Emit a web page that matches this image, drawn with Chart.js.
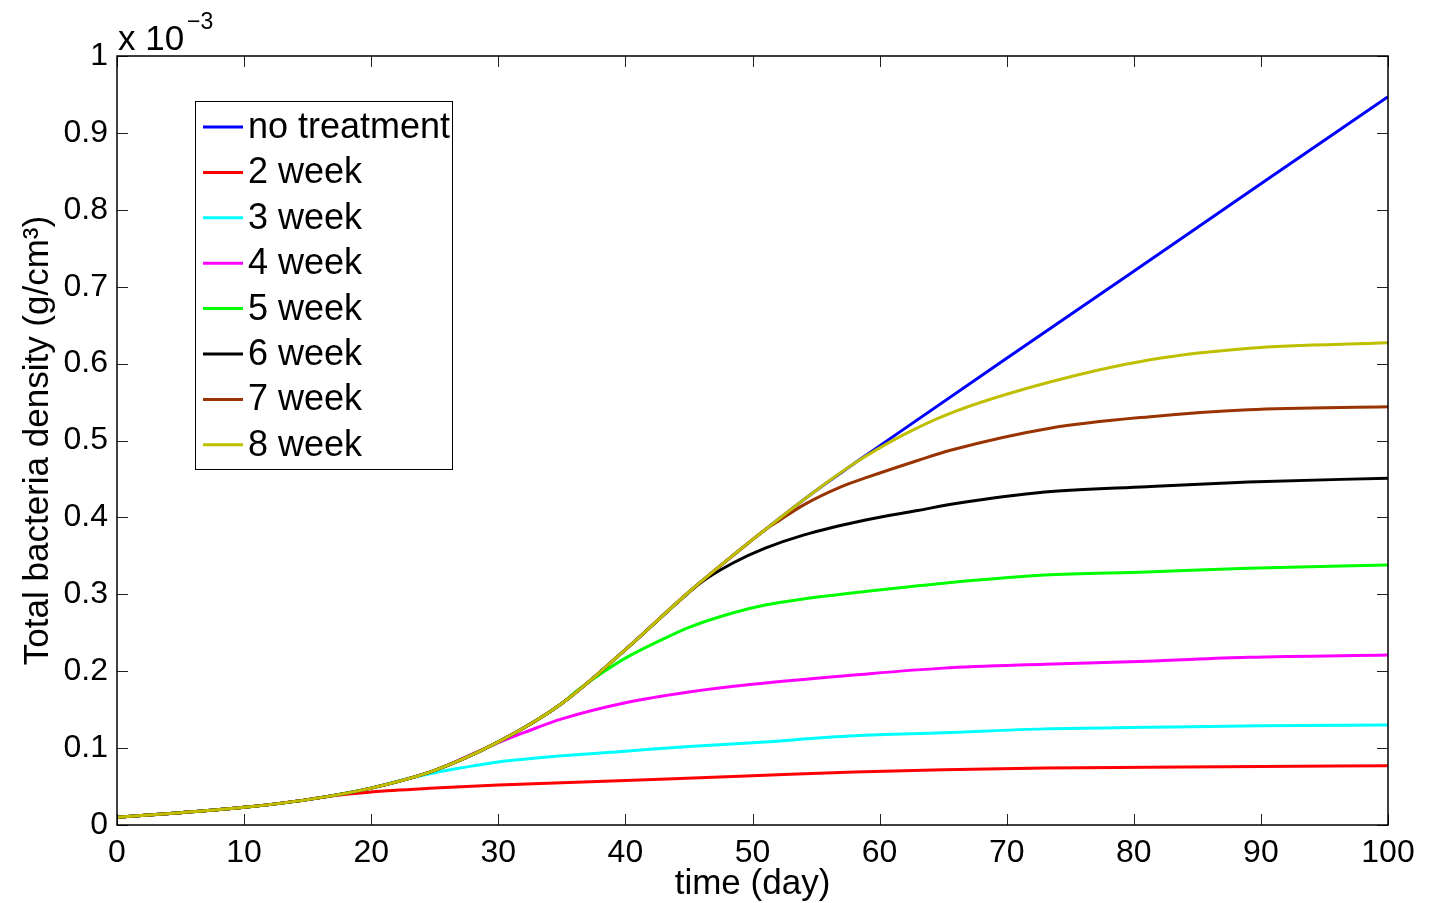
<!DOCTYPE html>
<html lang="en">
<head>
    <meta charset="UTF-8">
    <title>Total bacteria density</title>
    <script src="https://cdn.jsdelivr.net/npm/chart.js"></script>
    <style>
        html, body { margin: 0; padding: 0; background: #fff; }
        #wrap { width: 1435px; height: 903px; position: relative; }
    </style>
</head>
<body>
<div id="wrap"><canvas id="densityChart"></canvas></div>

<script>
    // values, in units of 1e-3 g/cm^3
    const seriesLabels = ["no treatment", "2 week", "3 week", "4 week", "5 week", "6 week", "7 week", "8 week"];
    const seriesColors = ["#0000ff", "#ff0000", "#00ffff", "#ff00ff", "#00ff00", "#000000", "#993300", "#bfbf00"];

    const noTreatDays = [0, 5, 10, 15, 20, 25, 30, 35, 40, 45, 50, 55, 58, 60, 70, 80, 90, 100];
    const noTreatVals = [0.010, 0.016, 0.023, 0.033, 0.048, 0.071, 0.108, 0.158, 0.228, 0.303, 0.371, 0.435, 0.470, 0.493, 0.607, 0.720, 0.834, 0.947];

    const week2Days = [0, 5, 10, 15, 17, 20, 25, 30, 35, 40, 50, 58, 65, 73, 81, 90, 100];
    const week2Vals = [0.010, 0.016, 0.023, 0.033, 0.038, 0.043, 0.048, 0.052, 0.055, 0.058, 0.064, 0.069, 0.072, 0.074, 0.075, 0.076, 0.077];

    const week3Days = [0, 5, 10, 15, 20, 23, 25, 27, 30, 35, 40, 45, 50, 58, 65, 73, 81, 90, 100];
    const week3Vals = [0.010, 0.016, 0.023, 0.033, 0.048, 0.061, 0.068, 0.074, 0.082, 0.090, 0.096, 0.102, 0.107, 0.116, 0.120, 0.125, 0.127, 0.129, 0.130];

    const week4Days = [0, 5, 10, 15, 20, 25, 29, 30, 32, 35, 40, 45, 50, 58, 65, 73, 81, 89, 100];
    const week4Vals = [0.010, 0.016, 0.023, 0.033, 0.048, 0.071, 0.100, 0.107, 0.120, 0.138, 0.159, 0.173, 0.183, 0.195, 0.204, 0.209, 0.213, 0.218, 0.221];

    const week5Days = [0, 5, 10, 15, 20, 25, 30, 35, 36, 38, 40, 43, 45, 48.5, 51, 54, 59, 63, 66, 73, 81, 89, 100];
    const week5Vals = [0.010, 0.016, 0.023, 0.033, 0.048, 0.071, 0.108, 0.158, 0.172, 0.196, 0.217, 0.242, 0.257, 0.276, 0.286, 0.294, 0.304, 0.311, 0.316, 0.325, 0.329, 0.334, 0.338];

    const week6Days = [0, 5, 10, 15, 20, 25, 30, 35, 40, 44, 46, 48.5, 51, 54, 59, 63, 66, 73, 81, 89, 100];
    const week6Vals = [0.010, 0.016, 0.023, 0.033, 0.048, 0.071, 0.108, 0.158, 0.228, 0.288, 0.316, 0.341, 0.360, 0.377, 0.397, 0.409, 0.418, 0.433, 0.440, 0.446, 0.451];

    const week7Days = [0, 5, 10, 15, 20, 25, 30, 35, 40, 45, 50, 51, 52.2, 54, 57, 59, 63, 65.5, 73.4, 81.3, 89, 100];
    const week7Vals = [0.010, 0.016, 0.023, 0.033, 0.048, 0.071, 0.108, 0.158, 0.228, 0.303, 0.371, 0.384, 0.397, 0.416, 0.440, 0.452, 0.474, 0.487, 0.516, 0.531, 0.540, 0.544];

    const week8Days = [0, 5, 10, 15, 20, 25, 30, 35, 40, 45, 50, 55, 58, 61.6, 65.5, 73.4, 81.3, 89.1, 100];
    const week8Vals = [0.010, 0.016, 0.023, 0.033, 0.048, 0.071, 0.108, 0.158, 0.228, 0.303, 0.371, 0.435, 0.470, 0.505, 0.535, 0.576, 0.605, 0.620, 0.627];

    const xTickStep = 10;
    const yTickStep = 0.1;

    const allDays = [noTreatDays, week2Days, week3Days, week4Days, week5Days, week6Days, week7Days, week8Days];
    const allVals = [noTreatVals, week2Vals, week3Vals, week4Vals, week5Vals, week6Vals, week7Vals, week8Vals];

    const FONT = "'Liberation Sans', Arial, Helvetica, sans-serif";

    // build datasets; later series drawn on top like the original
    const datasets = seriesLabels.map(function (label, i) {
        return {
            label: label,
            data: allDays[i].map(function (d, k) { return { x: d, y: allVals[i][k] }; }),
            borderColor: seriesColors[i],
            backgroundColor: seriesColors[i],
            borderWidth: 3,
            pointRadius: 0,
            cubicInterpolationMode: "monotone",
            order: seriesLabels.length - i
        };
    });

    // box, inward ticks, exponent note and legend
    const matlabFrame = {
        id: "matlabFrame",
        afterDraw(chart) {
            const ctx = chart.ctx;
            const a = chart.chartArea;
            const xs = chart.scales.x, ys = chart.scales.y;
            ctx.save();
            ctx.strokeStyle = "#222";
            ctx.lineWidth = 1;
            const tl = 11;
            xs.ticks.forEach(function (t) {
                const px = Math.round(xs.getPixelForValue(t.value)) + 0.5;
                ctx.beginPath();
                ctx.moveTo(px, a.bottom); ctx.lineTo(px, a.bottom - tl);
                ctx.moveTo(px, a.top); ctx.lineTo(px, a.top + tl);
                ctx.stroke();
            });
            ys.ticks.forEach(function (t) {
                const py = Math.round(ys.getPixelForValue(t.value)) + 0.5;
                ctx.beginPath();
                ctx.moveTo(a.left, py); ctx.lineTo(a.left + tl, py);
                ctx.moveTo(a.right, py); ctx.lineTo(a.right - tl, py);
                ctx.stroke();
            });
            ctx.strokeStyle = "#000";
            ctx.lineWidth = 1.5;
            ctx.strokeRect(a.left, a.top, a.right - a.left, a.bottom - a.top);

            // x 10^-3
            ctx.fillStyle = "#000";
            ctx.textAlign = "left";
            ctx.textBaseline = "alphabetic";
            ctx.font = "35px " + FONT;
            ctx.fillText("x 10", a.left + 1, 50);
            ctx.font = "23px " + FONT;
            ctx.fillText("\u22123", a.left + 70, 29);

            // legend
            const lx = 195, ly = 101, lw = 257, lh = 368;
            ctx.fillStyle = "#fff";
            ctx.fillRect(lx, ly, lw, lh);
            ctx.strokeStyle = "#000";
            ctx.lineWidth = 1;
            ctx.strokeRect(lx + 0.5, ly + 0.5, lw, lh);
            ctx.font = "36px " + FONT;
            ctx.textBaseline = "middle";
            seriesLabels.forEach(function (label, i) {
                const y = 127 + i * 45.4;
                ctx.strokeStyle = seriesColors[i];
                ctx.lineWidth = 3;
                ctx.beginPath();
                ctx.moveTo(203, y); ctx.lineTo(243, y);
                ctx.stroke();
                ctx.fillStyle = "#000";
                ctx.fillText(label, 248, y + 1);
            });
            ctx.restore();
        }
    };

    new Chart(document.getElementById("densityChart"), {
        type: "line",
        data: { datasets: datasets },
        options: {
            responsive: true,
            maintainAspectRatio: false,
            animation: false,
            layout: { padding: { top: 56, right: 47, left: 0, bottom: 0 } },
            plugins: { legend: { display: false }, tooltip: { enabled: false } },
            scales: {
                x: {
                    type: "linear",
                    min: 0, max: 100,
                    grid: { display: false, drawTicks: false },
                    border: { display: false },
                    ticks: {
                        stepSize: xTickStep, color: "#000", padding: 9,
                        font: { family: FONT, size: 32 }, maxRotation: 0
                    },
                    title: {
                        display: true, text: "time (day)", color: "#000",
                        font: { family: FONT, size: 35 }, padding: { top: 0, bottom: -2 }
                    },
                    afterFit(scale) { scale.height = 78; }
                },
                y: {
                    type: "linear",
                    min: 0, max: 1,
                    grid: { display: false, drawTicks: false },
                    border: { display: false },
                    ticks: {
                        stepSize: yTickStep, color: "#000", padding: 9,
                        font: { family: FONT, size: 32 },
                        callback: function (v) { return v === 0 ? "0" : (v === 1 ? "1" : v.toFixed(1)); }
                    },
                    title: {
                        display: true, text: "Total bacteria density (g/cm\u00b3)", color: "#000",
                        font: { family: FONT, size: 35 }, padding: { top: 17, bottom: 0 }
                    },
                    afterFit(scale) { scale.width = 117; }
                }
            }
        },
        plugins: [matlabFrame]
    });
</script>
</body>
</html>
